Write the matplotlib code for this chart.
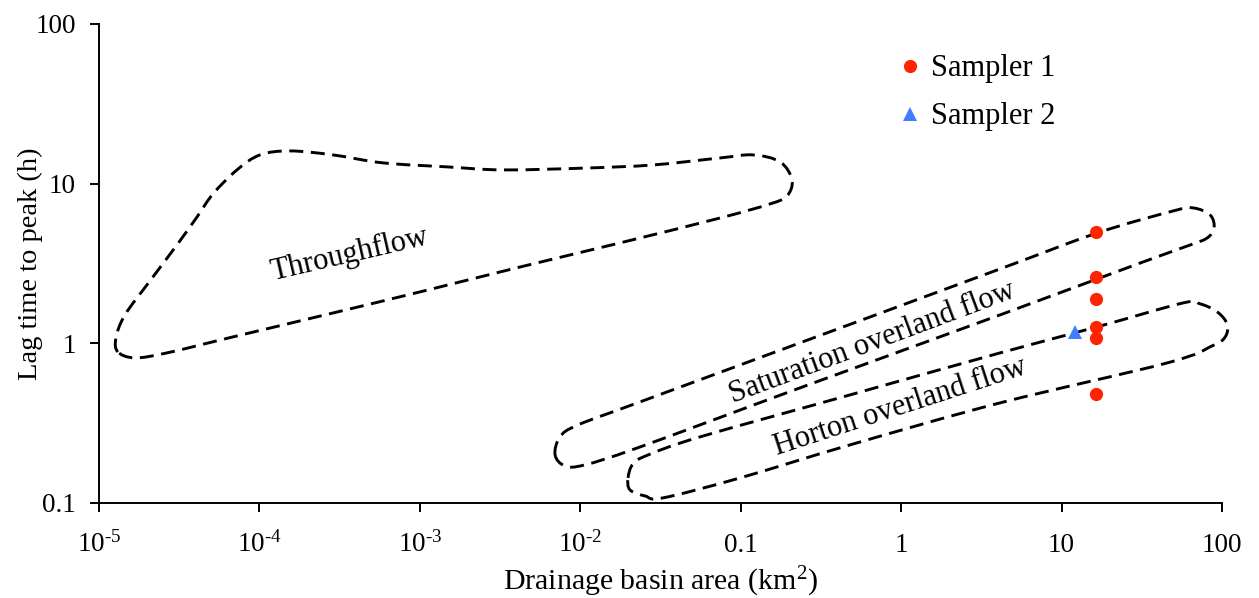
import numpy as np
import matplotlib
matplotlib.use('Agg')
import matplotlib.pyplot as plt
from matplotlib.path import Path
from matplotlib.patches import PathPatch
from matplotlib.ticker import FixedLocator, FixedFormatter, NullLocator

plt.rcParams['font.family'] = ['Liberation Serif', 'DejaVu Serif']
plt.rcParams['mathtext.fontset'] = 'custom'
plt.rcParams['mathtext.rm'] = 'Liberation Serif'
plt.rcParams['mathtext.it'] = 'Liberation Serif:italic'
plt.rcParams['mathtext.bf'] = 'Liberation Serif:bold'

# ---------------- data ----------------
x_ticks = [1e-5, 1e-4, 1e-3, 1e-2, 0.1, 1, 10, 100]
x_tick_labels = [r'$\mathregular{10^{\text{-}5}}$', r'$\mathregular{10^{\text{-}4}}$',
                 r'$\mathregular{10^{\text{-}3}}$', r'$\mathregular{10^{\text{-}2}}$',
                 '0.1', '1', '10', '100']
y_ticks = [0.1, 1, 10, 100]
y_tick_labels = ['0.1', '1', '10', '100']

sampler1_area = [16.4, 16.4, 16.4, 16.4, 16.4, 16.4]
sampler1_lag = [5.0, 2.6, 1.9, 1.27, 1.08, 0.48]
sampler2_area = [12.2]
sampler2_lag = [1.17]

# envelope outlines (log10 of area, log10 of lag time)
throughflow_log_area = [-4.882, -4.894, -4.838, -4.682, -4.514, -4.389, -4.289, -4.140,
                        -3.996, -3.809, -3.541, -3.229, -2.830, -2.481, -1.958, -1.546,
                        -1.128, -0.923, -0.754, -0.680, -0.711, -0.817, -1.128, -1.752,
                        -2.375, -2.999, -3.541, -4.165, -4.576, -4.776]
throughflow_log_lag = [-0.054, 0.034, 0.178, 0.391, 0.616, 0.791, 0.936, 1.086,
                       1.180, 1.205, 1.180, 1.130, 1.105, 1.086, 1.098, 1.117,
                       1.161, 1.180, 1.136, 1.023, 0.923, 0.873, 0.785, 0.629,
                       0.478, 0.322, 0.190, 0.040, -0.060, -0.091]

saturation_log_area = [-2.157, -2.126, -2.014, -1.627, -0.630, 0.617, 1.222, 1.696,
                       1.820, 1.926, 1.951, 1.908, 1.802, 1.490, 0.617, -0.630,
                       -1.627, -1.970, -2.095]
saturation_log_lag = [-0.699, -0.586, -0.511, -0.367, 0.003, 0.466, 0.691, 0.829,
                      0.848, 0.804, 0.723, 0.660, 0.616, 0.503, 0.178, -0.279,
                      -0.649, -0.761, -0.768]

horton_log_area = [-1.702, -1.671, -1.577, -1.253, -0.318, 0.617, 1.222, 1.758,
                   1.864, 1.970, 2.032, 2.020, 1.939, 1.658, 0.617, -0.318,
                   -1.004, -1.484, -1.596, -1.690]
horton_log_lag = [-0.843, -0.755, -0.699, -0.586, -0.323, -0.060, 0.103, 0.253,
                  0.247, 0.197, 0.121, 0.040, -0.016, -0.123, -0.373, -0.636,
                  -0.843, -0.968, -0.956, -0.918]


def closed_smooth_path(lx, ly):
    """Closed Catmull-Rom outline expressed as cubic Bezier segments."""
    P = np.column_stack([lx, ly])
    n = len(P)
    verts = [P[0]]
    codes = [Path.MOVETO]
    for i in range(n):
        p0 = P[(i - 1) % n]
        p1 = P[i]
        p2 = P[(i + 1) % n]
        p3 = P[(i + 2) % n]
        c1 = p1 + (p2 - p0) / 6.0
        c2 = p2 - (p3 - p1) / 6.0
        verts += [c1, c2, p2]
        codes += [Path.CURVE4] * 3
    verts = 10.0 ** np.array(verts)
    return Path(verts, codes)


fig = plt.figure(figsize=(12.59, 5.98), dpi=100)
ax = fig.add_axes([0.0786, 0.1589, 0.8920, 0.8010])
ax.set_xscale('log')
ax.set_yscale('log')
ax.set_xlim(1e-5, 100)
ax.set_ylim(0.1, 100)

dash = (0, (4.8, 2.6))
for lx, ly in [(throughflow_log_area, throughflow_log_lag),
               (saturation_log_area, saturation_log_lag),
               (horton_log_area, horton_log_lag)]:
    patch = PathPatch(closed_smooth_path(lx, ly), facecolor='none', edgecolor='black',
                      lw=2.1, linestyle=dash, clip_on=False, zorder=2)
    ax.add_patch(patch)

ax.plot(sampler1_area, sampler1_lag, 'o', color='#FF2400', markersize=9.5,
        markeredgewidth=0, label='Sampler 1', zorder=4, clip_on=False)
ax.plot(sampler2_area, sampler2_lag, '^', color='#3F7FFF', markersize=10,
        markeredgewidth=0, label='Sampler 2', zorder=4, clip_on=False)

ax.text(3.67e-4, 3.58, 'Throughflow', rotation=13, fontsize=22,
        ha='center', va='center')
ax.text(0.66, 1.0, 'Saturation overland flow', rotation=20.5, fontsize=22,
        ha='center', va='center')
ax.text(0.99, 0.40, 'Horton overland flow', rotation=18, fontsize=22,
        ha='center', va='center')

for s in ['top', 'right']:
    ax.spines[s].set_visible(False)
for s in ['left', 'bottom']:
    ax.spines[s].set_linewidth(1.4)

ax.xaxis.set_major_locator(FixedLocator(x_ticks))
ax.xaxis.set_major_formatter(FixedFormatter(x_tick_labels))
ax.xaxis.set_minor_locator(NullLocator())
ax.yaxis.set_major_locator(FixedLocator(y_ticks))
ax.yaxis.set_major_formatter(FixedFormatter(y_tick_labels))
ax.yaxis.set_minor_locator(NullLocator())

ax.tick_params(axis='both', direction='out', length=6.5, width=1.4,
               labelsize=19.5, colors='black')
ax.tick_params(axis='x', pad=28.5)
ax.tick_params(axis='y', pad=10)
for lbl in ax.get_xticklabels():
    lbl.set_verticalalignment('baseline')

ax.set_xlabel('Drainage basin area (km$^{\\mathregular{2}}$)', fontsize=21.5, va='baseline')
ax.xaxis.set_label_coords(0.5, (503 - 590) / 479)
ax.set_ylabel('Lag time to peak (h)', fontsize=20.5)
ax.yaxis.set_label_coords(-0.050, 0.5)

leg = ax.legend(loc='upper left', bbox_to_anchor=(0.70, 0.962), frameon=False,
                fontsize=22, handlelength=0.8, handletextpad=0.3,
                labelspacing=0.62, borderaxespad=0)

fig.savefig('out.png', dpi=100, facecolor='white')
